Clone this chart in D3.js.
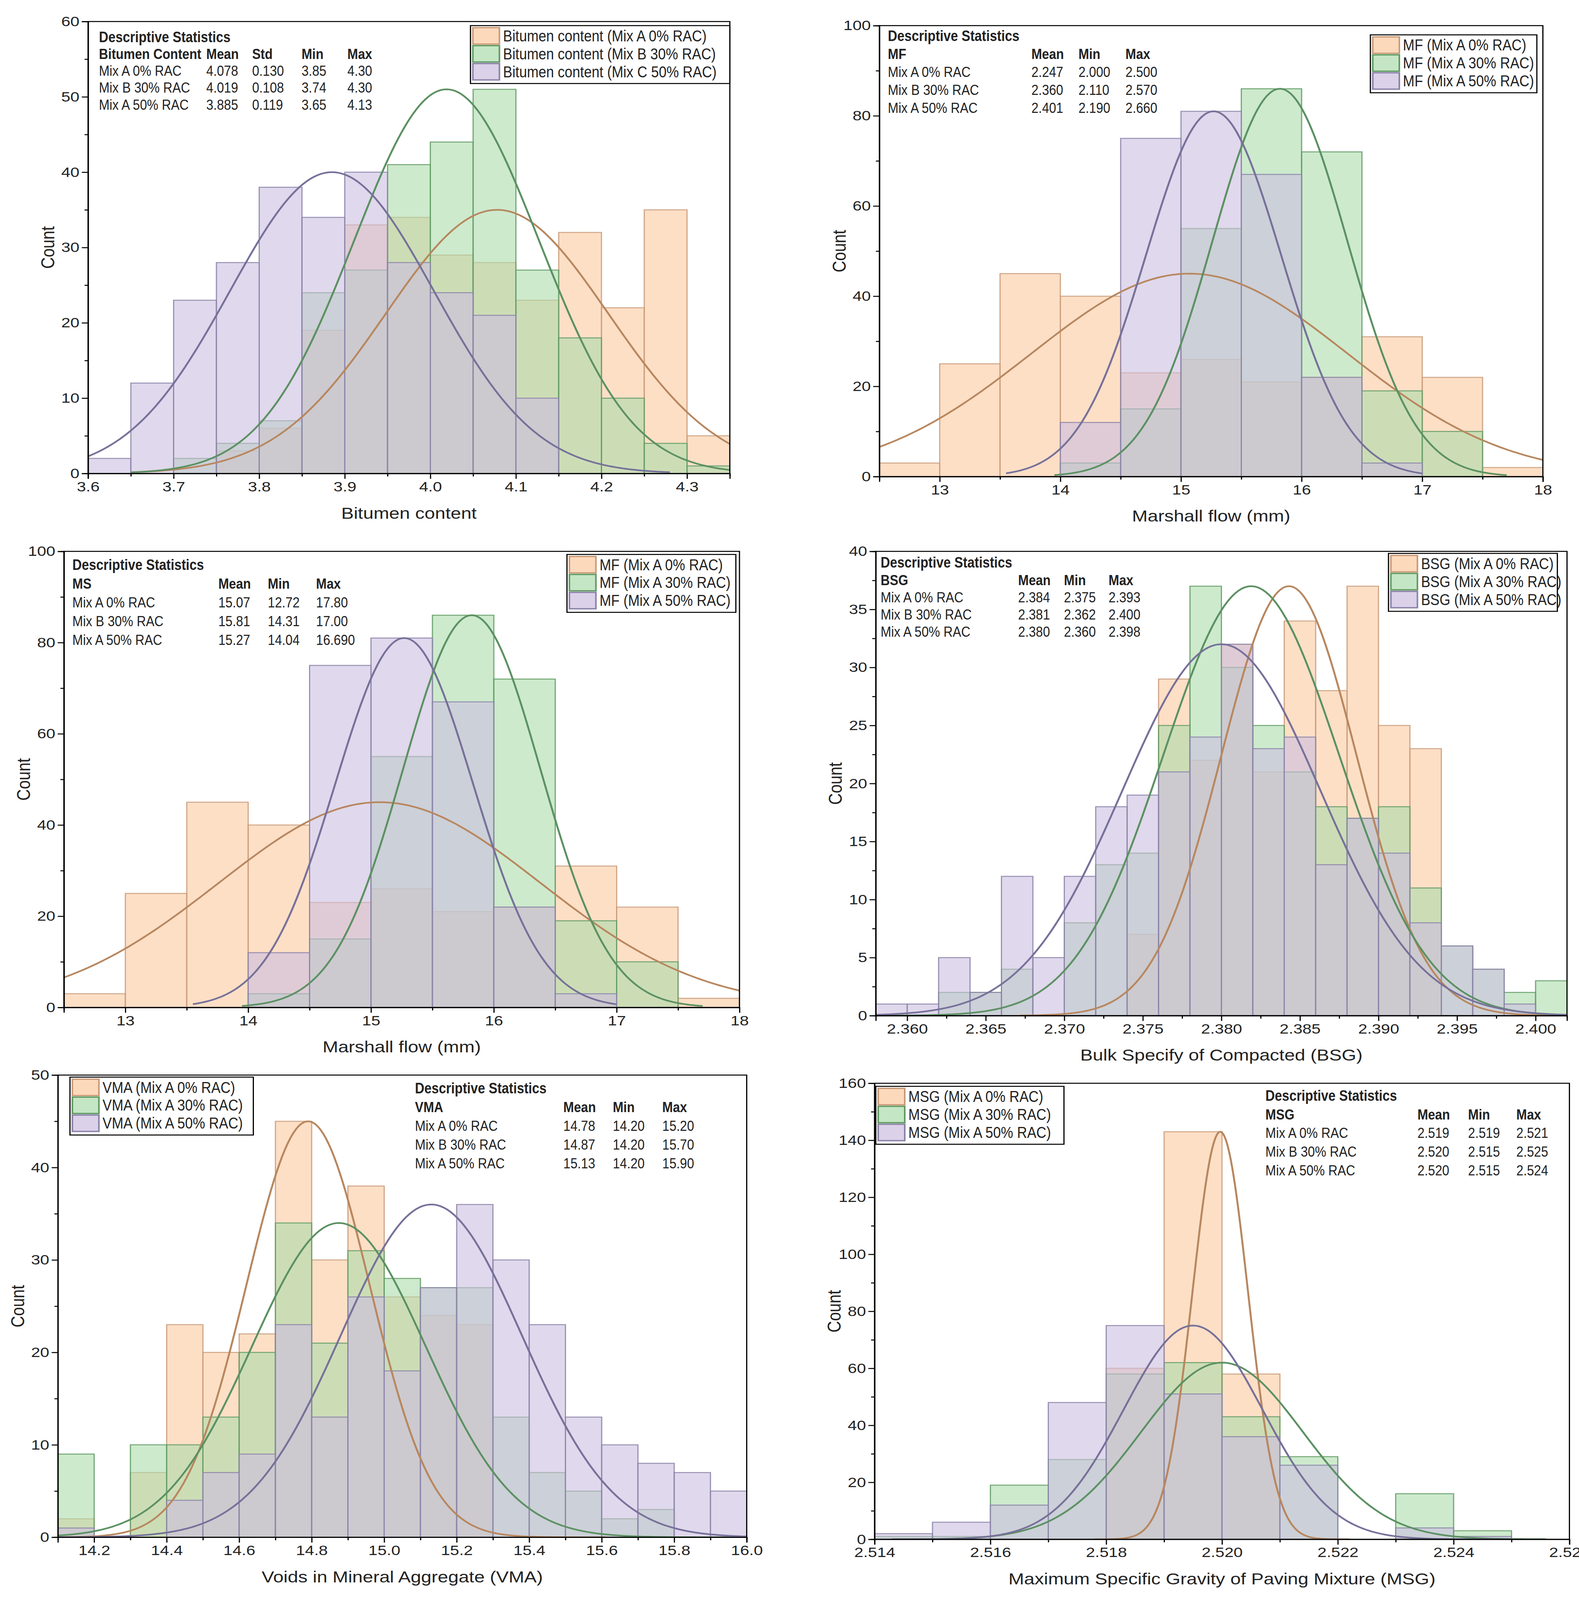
<!DOCTYPE html>
<html>
<head>
<meta charset="utf-8">
<script src="https://cdn.jsdelivr.net/npm/d3@7"></script>
<style>
  html, body { margin: 0; padding: 0; background: #fff; overflow: hidden; }
  svg { display: block; }
  text { font-family: "Liberation Sans Narrow", "Liberation Sans", Arial, sans-serif; }
</style>
</head>
<body>
<svg id="chart"></svg>
<script>
// ---- data ----
// panel 1: bitumen content
var p1Bins = [3.60, 3.65, 3.70, 3.75, 3.80, 3.85, 3.90, 3.95, 4.00, 4.05, 4.10, 4.15, 4.20, 4.25, 4.30];
var p1A = [0, 0, 0, 3, 6, 19, 33, 34, 29, 28, 23, 32, 22, 35, 5];
var p1B = [0, 0, 2, 4, 7, 24, 27, 41, 44, 51, 27, 18, 10, 4, 1];
var p1C = [2, 12, 23, 28, 38, 34, 40, 28, 24, 21, 10, 0, 0, 0, 0];
// panels 2 and 3: marshall flow (same histogram)
var mfBins = [12.5, 13.0, 13.5, 14.0, 14.5, 15.0, 15.5, 16.0, 16.5, 17.0, 17.5];
var mfA = [3, 25, 45, 40, 23, 26, 21, 22, 31, 22, 2];
var mfB = [0, 0, 0, 3, 15, 55, 86, 72, 19, 10, 0];
var mfC = [0, 0, 0, 12, 75, 81, 67, 22, 3, 0, 0];
// panel 4: BSG
var bsgBins = [2.358, 2.360, 2.362, 2.364, 2.366, 2.368, 2.370, 2.372, 2.374, 2.376, 2.378,
               2.380, 2.382, 2.384, 2.386, 2.388, 2.390, 2.392, 2.394, 2.396, 2.398, 2.400];
var bsgA = [0, 0, 0, 0, 0, 0, 0, 0, 7, 29, 22, 32, 21, 34, 28, 37, 25, 23, 0, 0, 0, 0];
var bsgB = [0, 0, 2, 2, 4, 0, 8, 13, 14, 25, 37, 30, 25, 21, 18, 17, 18, 11, 6, 4, 2, 3];
var bsgC = [1, 1, 5, 2, 12, 5, 12, 18, 19, 21, 24, 32, 23, 24, 13, 17, 14, 8, 6, 4, 1, 0];
// panel 5: VMA
var vmaBins = [14.1, 14.2, 14.3, 14.4, 14.5, 14.6, 14.7, 14.8, 14.9, 15.0, 15.1, 15.2, 15.3,
               15.4, 15.5, 15.6, 15.7, 15.8, 15.9];
var vmaA = [2, 0, 7, 23, 20, 22, 45, 30, 38, 26, 24, 23, 0, 0, 0, 0, 0, 0, 0];
var vmaB = [9, 0, 10, 10, 13, 20, 34, 21, 31, 28, 27, 27, 13, 7, 5, 2, 3, 0, 0];
var vmaC = [1, 0, 0, 4, 7, 9, 23, 13, 26, 18, 27, 36, 30, 23, 13, 10, 8, 7, 5];
// panel 6: MSG
var msgBins = [2.514, 2.515, 2.516, 2.517, 2.518, 2.519, 2.520, 2.521, 2.522, 2.523, 2.524];
var msgA = [0, 0, 0, 0, 60, 143, 58, 0, 0, 0, 0];
var msgB = [1, 1, 19, 28, 58, 62, 43, 29, 0, 16, 3];
var msgC = [2, 6, 12, 48, 75, 51, 36, 26, 0, 4, 1];

// fitted normal curves: [mean, sd, peak count]
var fit1 = [[4.078, 0.130, 35], [4.019, 0.108, 51], [3.885, 0.119, 40]];
var fitMF = [[15.07, 1.31, 45], [15.82, 0.56, 86], [15.27, 0.56, 81]];
var fit4 = [[2.3843, 0.0043, 37], [2.3819, 0.0056, 37], [2.3800, 0.0063, 32]];
var fit5 = [[14.79, 0.17, 45], [14.875, 0.24, 34], [15.13, 0.25, 36]];
var fit6 = [[2.51997, 0.00048, 143], [2.5200, 0.0014, 62], [2.5195, 0.0012, 75]];
// curve drawn ranges
var range1 = [[3.65, 4.36], [3.65, 4.36], [3.60, 4.28]];
var rangeMF = [[12.5, 18], [13.95, 17.7], [13.55, 17.0]];
var range4 = [[2.3672, 2.4010], [2.3584, 2.4020], [2.3580, 2.4020]];
var range5 = [[14.1, 15.61], [14.1, 15.95], [14.1, 16.0]];
var range6 = [[2.5178, 2.5222], [2.5143, 2.5256], [2.5143, 2.5250]];

var statsTitles = ["Bitumen Content", "MF", "MS", "BSG", "VMA", "MSG"];
var rowNames = ["Mix A 0% RAC", "Mix B 30% RAC", "Mix A 50% RAC"];
var stats1 = [["Mean", "Std", "Min", "Max"], ["4.078", "0.130", "3.85", "4.30"], ["4.019", "0.108", "3.74", "4.30"], ["3.885", "0.119", "3.65", "4.13"]];
var stats2 = [["Mean", "Min", "Max"], ["2.247", "2.000", "2.500"], ["2.360", "2.110", "2.570"], ["2.401", "2.190", "2.660"]];
var stats3 = [["Mean", "Min", "Max"], ["15.07", "12.72", "17.80"], ["15.81", "14.31", "17.00"], ["15.27", "14.04", "16.690"]];
var stats4 = [["Mean", "Min", "Max"], ["2.384", "2.375", "2.393"], ["2.381", "2.362", "2.400"], ["2.380", "2.360", "2.398"]];
var stats5 = [["Mean", "Min", "Max"], ["14.78", "14.20", "15.20"], ["14.87", "14.20", "15.70"], ["15.13", "14.20", "15.90"]];
var stats6 = [["Mean", "Min", "Max"], ["2.519", "2.519", "2.521"], ["2.520", "2.515", "2.525"], ["2.520", "2.515", "2.524"]];

var legend1 = ["Bitumen content (Mix A 0% RAC)", "Bitumen content (Mix B 30% RAC)", "Bitumen content (Mix C 50% RAC)"];
var legendMF = ["MF (Mix A 0% RAC)", "MF (Mix A 30% RAC)", "MF (Mix A 50% RAC)"];
var legend4 = ["BSG (Mix A 0% RAC)", "BSG (Mix A 30% RAC)", "BSG (Mix A 50% RAC)"];
var legend5 = ["VMA (Mix A 0% RAC)", "VMA (Mix A 30% RAC)", "VMA (Mix A 50% RAC)"];
var legend6 = ["MSG (Mix A 0% RAC)", "MSG (Mix A 30% RAC)", "MSG (Mix A 50% RAC)"];

// ---- styles ----
var W = 4042, H = 4821;
var S = 3.088; // reference layout was measured on a 1309px-wide copy
var fills = ["#fcc9a0", "#acdcac", "#ccbedf"];
var strokes = ["#c89a78", "#5f9a62", "#8a82a8"];
var curveCol = ["#b8875f", "#5c9163", "#77719a"];
var NARROW = 0.74; // squeeze text horizontally, the original uses a narrow face

// the browser window is shorter than the chart, so the drawing is squeezed to fit it
var svg = d3.select("#chart")
  .attr("width", W)
  .attr("height", Math.min(H, window.innerHeight || H))
  .attr("viewBox", "0 0 " + W + " " + H)
  .attr("preserveAspectRatio", "none");

// narrow text helper
function ntext(g, x, y, str, size, bold) {
  return g.append("text")
    .attr("transform", "translate(" + x + "," + y + ") scale(" + NARROW + ",1)")
    .style("font-size", size + "px")
    .style("font-weight", bold ? "bold" : "normal")
    .style("fill", "#222")
    .text(str);
}

function panel(o) {
  var x0 = o.box[0] * S, x1 = o.box[1] * S, y0 = o.box[2] * S, y1 = o.box[3] * S;
  var g = svg.append("g");
  var x = d3.scaleLinear().domain(o.xDom).range([x0, x1]);
  var y = d3.scaleLinear().domain(o.yDom).range([y1, y0]);
  var clipId = "clip" + o.id;
  g.append("clipPath").attr("id", clipId).append("rect")
    .attr("x", x0).attr("y", y0).attr("width", x1 - x0).attr("height", y1 - y0);
  var plot = g.append("g").attr("clip-path", "url(#" + clipId + ")");

  // bars
  o.series.forEach(function(vals, k) {
    plot.selectAll(".bar" + k)
      .data(vals.map(function(v, i) { return { x: o.bins[i], v: v }; }).filter(function(d) { return d.v > 0; }))
      .enter().append("rect")
      .attr("x", function(d) { return x(d.x); })
      .attr("y", function(d) { return y(d.v); })
      .attr("width", function(d) { return x(d.x + o.bw) - x(d.x); })
      .attr("height", function(d) { return y(0) - y(d.v); })
      .style("fill", fills[k]).style("fill-opacity", 0.6)
      .style("stroke", strokes[k]).style("stroke-width", 3).style("stroke-opacity", 0.85);
  });

  // fitted curves
  o.fits.forEach(function(f, k) {
    var r = o.ranges[k], pts = [];
    for (var i = 0; i <= 200; i++) {
      var xv = r[0] + (r[1] - r[0]) * i / 200;
      pts.push([xv, f[2] * Math.exp(-Math.pow(xv - f[0], 2) / (2 * f[1] * f[1]))]);
    }
    plot.append("path").datum(pts)
      .attr("d", d3.line().x(function(d) { return x(d[0]); }).y(function(d) { return y(d[1]); }))
      .style("fill", "none").style("stroke", curveCol[k]).style("stroke-width", 5);
  });

  // frame
  g.append("rect").attr("x", x0).attr("y", y0).attr("width", x1 - x0).attr("height", y1 - y0)
    .style("fill", "none").style("stroke", "#000").style("stroke-width", 3);

  // axes
  g.append("g").attr("transform", "translate(0," + y1 + ")")
    .call(d3.axisBottom(x).tickValues(o.xTicks).tickFormat(d3.format(o.xFmt)).tickSize(16).tickPadding(8));
  g.append("g").attr("transform", "translate(0," + y1 + ")")
    .call(d3.axisBottom(x).tickValues(o.xMinor).tickFormat("").tickSize(9));
  g.append("g").attr("transform", "translate(" + x0 + ",0)")
    .call(d3.axisLeft(y).tickValues(o.yTicks).tickFormat(d3.format("d")).tickSize(16).tickPadding(6));
  g.append("g").attr("transform", "translate(" + x0 + ",0)")
    .call(d3.axisLeft(y).tickValues(o.yMinor).tickFormat("").tickSize(9));
  g.selectAll(".domain").style("stroke-width", 3);
  g.selectAll(".tick line").style("stroke-width", 3);
  g.selectAll(".tick text").style("font-size", "42px").style("fill", "#222");

  g.append("text").attr("x", (x0 + x1) / 2).attr("y", y1 + 44 * S)
    .attr("text-anchor", "middle").style("font-size", "48px").style("fill", "#222").text(o.xTitle);
  g.append("text").attr("transform", "translate(" + (x0 - 28 * S) + "," + ((y0 + y1) / 2) + ") rotate(-90)")
    .attr("text-anchor", "middle").style("font-size", "48px").style("fill", "#222").text("Count");

  // descriptive statistics
  var st = o.stats, sx = o.statPos[0] * S, sy = o.statPos[1] * S, dy = o.statPos[2] * S;
  var t = g.append("g");
  ntext(t, sx, sy, "Descriptive Statistics", 45, true);
  ntext(t, sx, sy + dy, o.statTitle, 44, true);
  st.tab[0].forEach(function(h, j) { ntext(t, st.cols[j] * S, sy + dy, h, 44, true); });
  rowNames.forEach(function(n, r) {
    ntext(t, sx, sy + dy * (r + 2), n, 44, false);
    st.tab[r + 1].forEach(function(v, j) { ntext(t, st.cols[j] * S, sy + dy * (r + 2), v, 44, false); });
  });

  // legend
  var lb = o.legBox, lx = lb[0] * S, ly = lb[1] * S, lw = lb[2] * S, rh = 17.5 * S;
  var lg = g.append("g");
  lg.append("rect").attr("x", lx).attr("y", ly).attr("width", lw).attr("height", rh * 3 + 4 * S)
    .style("fill", "#fff").style("stroke", "#000").style("stroke-width", 3);
  o.legend.forEach(function(s, k) {
    lg.append("rect").attr("x", lx + 2 * S).attr("y", ly + 2 * S + k * rh).attr("width", 22 * S).attr("height", rh - 1.5 * S)
      .style("fill", fills[k]).style("fill-opacity", 0.7).style("stroke", strokes[k]).style("stroke-width", 4);
    ntext(lg, lx + 27 * S, ly + 2 * S + k * rh + rh * 0.76, s, 48, false);
  });
}

panel({ id: 1, box: [73, 605, 21, 462], xDom: [3.6, 4.35], yDom: [0, 60],
  bins: p1Bins, bw: 0.05, series: [p1A, p1B, p1C], fits: fit1, ranges: range1,
  xTicks: [3.6, 3.7, 3.8, 3.9, 4.0, 4.1, 4.2, 4.3], xMinor: [3.65, 3.75, 3.85, 3.95, 4.05, 4.15, 4.25, 4.35], xFmt: ".1f",
  yTicks: [0, 10, 20, 30, 40, 50, 60], yMinor: [5, 15, 25, 35, 45, 55],
  xTitle: "Bitumen content", statTitle: statsTitles[0], statPos: [82, 41, 16.5],
  stats: { tab: stats1, cols: [171, 209, 250, 288] },
  legBox: [390, 25, 215], legend: legend1 });

panel({ id: 2, box: [729, 1279, 25, 465], xDom: [12.5, 18], yDom: [0, 100],
  bins: mfBins, bw: 0.5, series: [mfA, mfB, mfC], fits: fitMF, ranges: rangeMF,
  xTicks: [13, 14, 15, 16, 17, 18], xMinor: [12.5, 13.5, 14.5, 15.5, 16.5, 17.5], xFmt: "d",
  yTicks: [0, 20, 40, 60, 80, 100], yMinor: [10, 30, 50, 70, 90],
  xTitle: "Marshall flow (mm)", statTitle: statsTitles[1], statPos: [736, 40, 17.5],
  stats: { tab: stats2, cols: [855, 894, 933] },
  legBox: [1136, 34, 138], legend: legendMF });

panel({ id: 3, box: [53, 613, 538, 983], xDom: [12.5, 18], yDom: [0, 100],
  bins: mfBins, bw: 0.5, series: [mfA, mfB, mfC], fits: fitMF, ranges: rangeMF,
  xTicks: [13, 14, 15, 16, 17, 18], xMinor: [12.5, 13.5, 14.5, 15.5, 16.5, 17.5], xFmt: "d",
  yTicks: [0, 20, 40, 60, 80, 100], yMinor: [10, 30, 50, 70, 90],
  xTitle: "Marshall flow (mm)", statTitle: statsTitles[2], statPos: [60, 556, 18.3],
  stats: { tab: stats3, cols: [181, 222, 262] },
  legBox: [470, 541, 140], legend: legendMF });

panel({ id: 4, box: [726, 1299, 538, 991], xDom: [2.358, 2.402], yDom: [0, 40],
  bins: bsgBins, bw: 0.002, series: [bsgA, bsgB, bsgC], fits: fit4, ranges: range4,
  xTicks: [2.360, 2.365, 2.370, 2.375, 2.380, 2.385, 2.390, 2.395, 2.400],
  xMinor: [2.3625, 2.3675, 2.3725, 2.3775, 2.3825, 2.3875, 2.3925, 2.3975], xFmt: ".3f",
  yTicks: [0, 5, 10, 15, 20, 25, 30, 35, 40], yMinor: [2.5, 7.5, 12.5, 17.5, 22.5, 27.5, 32.5, 37.5],
  xTitle: "Bulk Specify of Compacted (BSG)", statTitle: statsTitles[3], statPos: [730, 554, 16.8],
  stats: { tab: stats4, cols: [844, 882, 919] },
  legBox: [1151, 540, 140], legend: legend4 });

panel({ id: 5, box: [48, 619, 1049, 1500], xDom: [14.1, 16.0], yDom: [0, 50],
  bins: vmaBins, bw: 0.1, series: [vmaA, vmaB, vmaC], fits: fit5, ranges: range5,
  xTicks: [14.2, 14.4, 14.6, 14.8, 15.0, 15.2, 15.4, 15.6, 15.8, 16.0],
  xMinor: [14.1, 14.3, 14.5, 14.7, 14.9, 15.1, 15.3, 15.5, 15.7, 15.9], xFmt: ".1f",
  yTicks: [0, 10, 20, 30, 40, 50], yMinor: [5, 15, 25, 35, 45],
  xTitle: "Voids in Mineral Aggregate (VMA)", statTitle: statsTitles[4], statPos: [344, 1067, 18.3],
  stats: { tab: stats5, cols: [467, 508, 549] },
  legBox: [58, 1051, 152], legend: legend5 });

panel({ id: 6, box: [725, 1301, 1057, 1502], xDom: [2.514, 2.526], yDom: [0, 160],
  bins: msgBins, bw: 0.001, series: [msgA, msgB, msgC], fits: fit6, ranges: range6,
  xTicks: [2.514, 2.516, 2.518, 2.520, 2.522, 2.524, 2.526],
  xMinor: [2.515, 2.517, 2.519, 2.521, 2.523, 2.525], xFmt: ".3f",
  yTicks: [0, 20, 40, 60, 80, 100, 120, 140, 160], yMinor: [10, 30, 50, 70, 90, 110, 130, 150],
  xTitle: "Maximum Specific Gravity of Paving Mixture (MSG)", statTitle: statsTitles[5], statPos: [1049, 1074, 18.2],
  stats: { tab: stats6, cols: [1175, 1217, 1257] },
  legBox: [726, 1060, 156], legend: legend6 });
</script>
</body>
</html>
